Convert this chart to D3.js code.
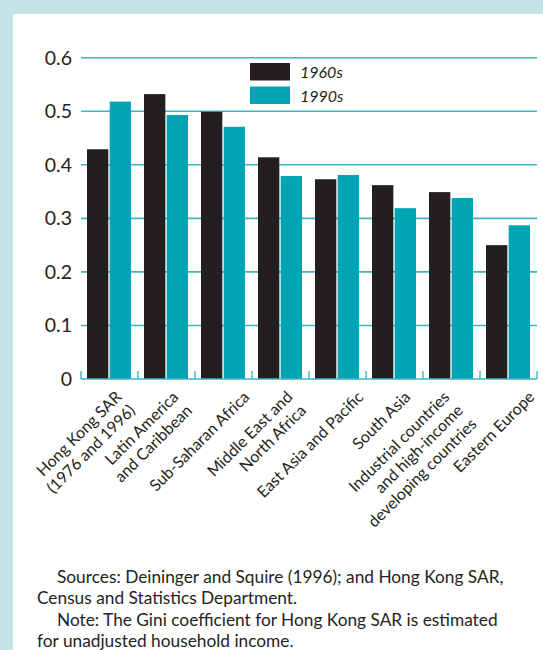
<!DOCTYPE html>
<html>
<head>
<meta charset="utf-8">
<script src="https://cdn.jsdelivr.net/npm/d3@7"></script>
<style>
  body { margin: 0; background: #c5e4e9; }
  svg { display: block; font-family: Lato, "Open Sans", sans-serif; }
</style>
</head>
<body>
<div id="app"></div>
<script>

var regions = [
    ["Hong Kong SAR", "(1976 and 1996)"],
    ["Latin America", "and Caribbean"],
    ["Sub-Saharan Africa"],
    ["Middle East and", "North Africa"],
    ["East Asia and Pacific"],
    ["South Asia"],
    ["Industrial countries", "and high-income", "developing countries"],
    ["Eastern Europe"]
];
var series = ["1960s", "1990s"];
var gini1960s = [0.429, 0.532, 0.499, 0.414, 0.373, 0.362, 0.349, 0.250];
var gini1990s = [0.518, 0.493, 0.471, 0.379, 0.381, 0.319, 0.338, 0.287];
var yTicks = [0, 0.1, 0.2, 0.3, 0.4, 0.5, 0.6];
var notes = [
    "Sources: Deininger and Squire (1996); and Hong Kong SAR,",
    "Census and Statistics Department.",
    "Note: The Gini coefficient for Hong Kong SAR is estimated",
    "for unadjusted household income."
];

var colors = { "1960s": "#231f20", "1990s": "#00a4b4" };
var gridColor = "#3db5c4";
// hand nudges of the slanted labels, as in the original layout
var labelNudge = [0, 0, 0, 0, 0, -10, 0, 0];

var svg = d3.select("#app")
    .append("svg")
    .attr("width", 543)
    .attr("height", 650);

// white panel
svg.append("rect")
    .attr("x", 13)
    .attr("y", 14)
    .attr("width", 530)
    .attr("height", 636)
    .style("fill", "#ffffff");

var names = regions.map(function (r) { return r.join(" "); });

var x = d3.scaleBand()
    .domain(names)
    .range([81, 537]);

var x1 = d3.scaleBand()
    .domain(series)
    .range([6, 50])
    .paddingInner(0.06);

var y = d3.scaleLinear()
    .domain([0, 0.6])
    .range([379, 57.7]);

// gridlines
svg.append("g")
    .selectAll("line")
    .data(yTicks.slice(1))
    .enter()
    .append("line")
    .attr("x1", 81)
    .attr("x2", 537)
    .attr("y1", function (d) { return y(d); })
    .attr("y2", function (d) { return y(d); })
    .style("stroke", gridColor)
    .style("stroke-width", 1.6);

// y labels
svg.append("g")
    .selectAll("text")
    .data(yTicks)
    .enter()
    .append("text")
    .attr("x", 72)
    .attr("y", function (d) { return y(d) + 7; })
    .attr("text-anchor", "end")
    .style("font-size", "19.5px")
    .style("fill", "#231f20")
    .text(function (d) { return d === 0 ? "0" : d3.format(".1f")(d); });

// bars
var groups = svg.append("g")
    .selectAll(".region")
    .data(names)
    .enter()
    .append("g")
    .attr("class", "region")
    .attr("transform", function (d) { return "translate(" + x(d) + ",0)"; });

groups.selectAll("rect")
    .data(function (d, i) {
        return [
            { key: "1960s", value: gini1960s[i] },
            { key: "1990s", value: gini1990s[i] }
        ];
    })
    .enter()
    .append("rect")
    .attr("x", function (d) { return x1(d.key); })
    .attr("width", x1.bandwidth())
    .attr("y", function (d) { return y(d.value); })
    .attr("height", function (d) { return y(0) - y(d.value); })
    .style("fill", function (d) { return colors[d.key]; });

// x axis with upward ticks at category boundaries
var axis = svg.append("g");
axis.append("line")
    .attr("x1", 81)
    .attr("x2", 537)
    .attr("y1", y(0))
    .attr("y2", y(0))
    .style("stroke", gridColor)
    .style("stroke-width", 1.6);

var bounds = names.map(function (d) { return x(d); }).concat([x.range()[1]]);
axis.selectAll(".tick")
    .data(bounds)
    .enter()
    .append("line")
    .attr("class", "tick")
    .attr("x1", function (d) { return d; })
    .attr("x2", function (d) { return d; })
    .attr("y1", y(0))
    .attr("y2", y(0) - 8)
    .style("stroke", gridColor)
    .style("stroke-width", 1.4);

// rotated category labels
var labels = svg.append("g")
    .selectAll("text")
    .data(regions)
    .enter()
    .append("text")
    .attr("text-anchor", "end")
    .style("font-size", "16px")
    .style("fill", "#231f20")
    .attr("transform", function (d, i) {
        var cx = x(names[i]) + x.bandwidth() / 2 + 27 - 14 * (d.length - 1) + labelNudge[i];
        return "translate(" + cx + ",398) rotate(-45)";
    });

labels.selectAll("tspan")
    .data(function (d) { return d; })
    .enter()
    .append("tspan")
    .attr("x", 0)
    .attr("dy", function (d, i) { return i === 0 ? 0 : "1.2em"; })
    .text(function (d) { return d; });

// legend
var legend = svg.append("g")
    .selectAll("g")
    .data(series)
    .enter()
    .append("g")
    .attr("transform", function (d, i) { return "translate(250," + (63 + i * 23.5) + ")"; });

legend.append("rect")
    .attr("width", 40)
    .attr("height", 17.5)
    .style("fill", function (d) { return colors[d]; });

legend.append("text")
    .attr("x", 50)
    .attr("y", 15)
    .style("font-size", "16px")
    .style("font-style", "italic")
    .style("fill", "#231f20")
    .text(function (d) { return d; });

// notes
svg.append("g")
    .selectAll("text")
    .data(notes)
    .enter()
    .append("text")
    .attr("x", function (d, i) { return i % 2 === 0 ? 57 : 37; })
    .attr("y", function (d, i) { return 583 + i * 21.3; })
    .style("font-size", "17.3px")
    .style("fill", "#231f20")
    .text(function (d) { return d; });

</script>
</body>
</html>
